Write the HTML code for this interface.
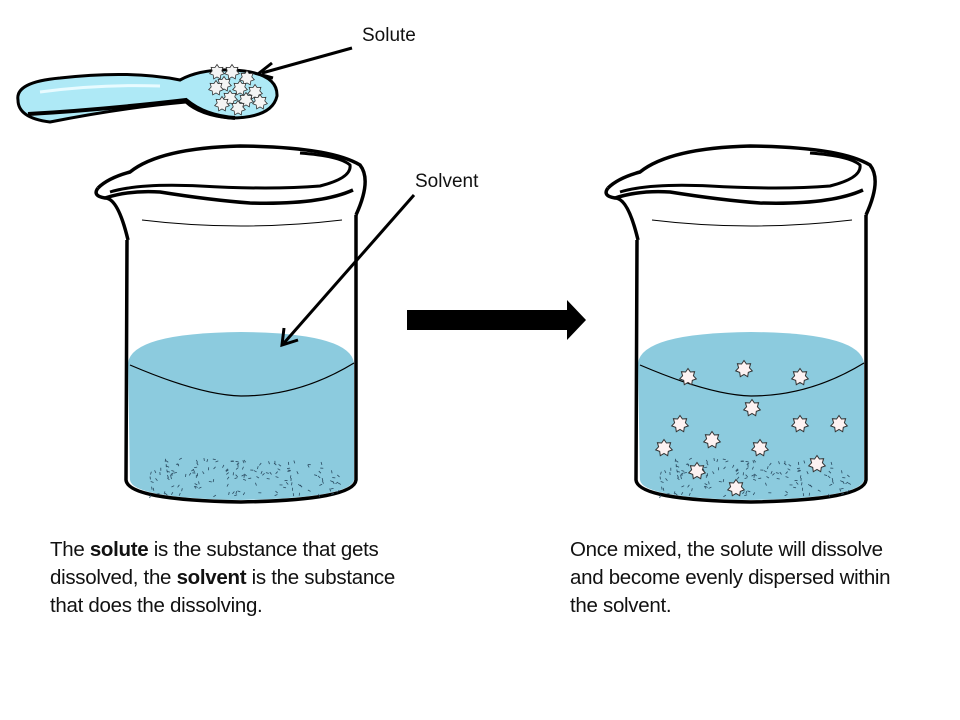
<!DOCTYPE html>
<html><head><meta charset="utf-8"><style>
body{margin:0;background:#fff;width:960px;height:720px;overflow:hidden;position:relative;font-family:"Liberation Sans",sans-serif}
.t{position:absolute;font-size:20.5px;line-height:28px;color:#111;white-space:nowrap;letter-spacing:-0.3px}
.l{position:absolute;font-size:19px;color:#111}
</style></head><body>
<svg id="s" width="960" height="720" style="position:absolute;left:0;top:0">
<defs>
<g id="beaker">
  <path d="M128,363 Q132,333 241,332 Q350,333 354,363 L354,480 Q350,498 241,500 Q132,498 130,480 Z" fill="#8ccbde"/>
  <path d="M130,365 Q200,395 241,396 Q300,396 354,363" fill="none" stroke="#000" stroke-width="1.2"/>
  <path d="M127,240 L126,480 Q128,500 241,502 Q354,500 356,480 L356,215" fill="none" stroke="#000" stroke-width="3.5"/>
  <path d="M98,188 Q108,178 130,172 Q160,148 240,146 Q330,147 360,165 Q372,180 356,215" fill="none" stroke="#000" stroke-width="3.5"/>
  <path d="M98,188 Q92,196 105,198 Q118,198 128,240" fill="none" stroke="#000" stroke-width="3.5"/>
  <path d="M105,198 Q130,190 160,192 Q210,200 250,203 Q320,205 353,190" fill="none" stroke="#000" stroke-width="3.5"/>
  <path d="M110,192 Q140,183 200,186 Q270,190 320,186 Q352,178 350,165 Q340,156 300,153" fill="none" stroke="#000" stroke-width="3"/>
  <path d="M142,220 Q240,232 342,220" fill="none" stroke="#000" stroke-width="1"/>
  <g id="dash"></g>
</g>
</defs>
<use href="#beaker"/>
<use href="#beaker" x="510"/>
<!-- spoon -->
<path d="M18,100 Q15,82 60,78 Q130,70 180,80 Q200,69 232,70 Q278,72 277,96 Q272,118 230,118 Q200,115 186,102 Q120,108 50,122 Q18,118 18,100 Z" fill="#aee9f6" stroke="#000" stroke-width="3"/>
<path d="M28,114 Q100,110 186,100 Q205,116 235,118" fill="none" stroke="#000" stroke-width="4"/>
<path d="M40,92 Q100,84 160,86" fill="none" stroke="#e8fbff" stroke-width="3"/>
<g id="spoonstars"></g>
<!-- big arrow -->
<polygon points="407,310 567,310 567,300 586,320 567,340 567,330 407,330" fill="#000"/>
<!-- label arrows -->
<line x1="352" y1="48" x2="262" y2="73" stroke="#000" stroke-width="3"/>
<polyline points="272,63 258,74 273,78" fill="none" stroke="#000" stroke-width="3"/>
<line x1="414" y1="195" x2="284" y2="343" stroke="#000" stroke-width="3"/>
<polyline points="284,328 282,345 298,340" fill="none" stroke="#000" stroke-width="3"/>
<g id="stars2"></g>
</svg>
<div class="l" style="left:362px;top:25px">Solute</div>
<div class="l" style="left:415px;top:171px">Solvent</div>
<div class="t" style="left:50px;top:536px">The <b>solute</b> is the substance that gets<br>dissolved, the <b>solvent</b> is the substance<br>that does the dissolving.</div>
<div class="t" style="left:570px;top:536px">Once mixed, the solute will dissolve<br>and become evenly dispersed within<br>the solvent.</div>
<script>
var NS="http://www.w3.org/2000/svg";
function star(cx,cy,r,fill,sw){var p=[];for(var i=0;i<14;i++){var a=Math.PI*i/7-Math.PI/2,rr=i%2?r*0.65:r;p.push((cx+rr*Math.cos(a)).toFixed(1)+","+(cy+rr*Math.sin(a)).toFixed(1));}
var e=document.createElementNS(NS,"polygon");e.setAttribute("points",p.join(" "));e.setAttribute("fill",fill);e.setAttribute("stroke","#333");e.setAttribute("stroke-width",sw);return e;}
var d=document.getElementById("dash"),seed=7;function rnd(){seed=(seed*9301+49297)%233280;return seed/233280;}
for(var i=0;i<150;i++){var x=150+rnd()*190,y=458+rnd()*38;var a=rnd()*Math.PI;var l=document.createElementNS(NS,"line");
l.setAttribute("x1",x);l.setAttribute("y1",y);l.setAttribute("x2",x+3*Math.cos(a));l.setAttribute("y2",y+3*Math.sin(a));l.setAttribute("stroke","#2a4a60");l.setAttribute("stroke-width","0.8");d.appendChild(l);}
var ss=document.getElementById("spoonstars");
[[217,72],[232,72],[247,78],[224,84],[240,88],[255,92],[216,88],[230,98],[246,100],[222,104],[238,108],[260,102]].forEach(function(c){ss.appendChild(star(c[0],c[1],7.5,"#f4f4f4","0.8"));});
var s2=document.getElementById("stars2");
[[688,377],[744,369],[800,377],[752,408],[680,424],[712,440],[800,424],[839,424],[664,448],[760,448],[697,471],[817,464],[736,488]].forEach(function(c){s2.appendChild(star(c[0],c[1],8.5,"#fdf2f2","1"));});
</script>
</body></html>
